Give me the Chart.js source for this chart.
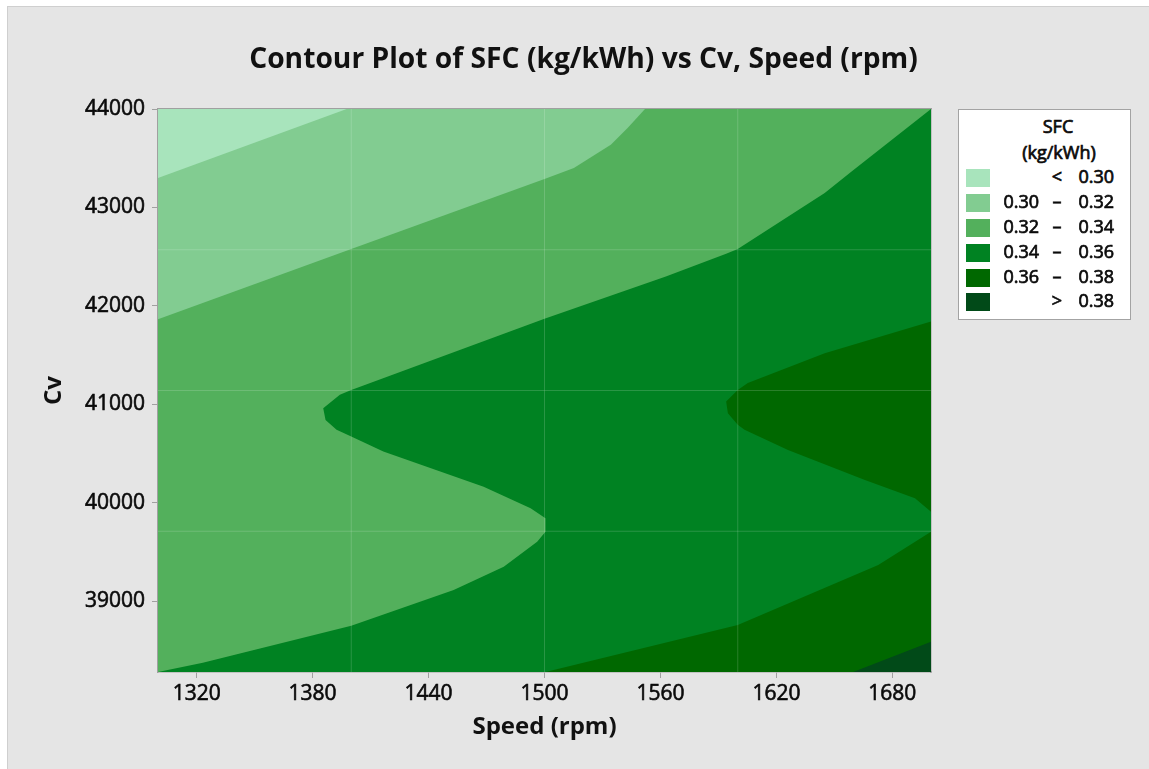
<!DOCTYPE html>
<html>
<head>
<meta charset="utf-8">
<script src="https://cdn.jsdelivr.net/npm/chart.js@4"></script>
<style>
html,body{margin:0;padding:0;background:#ffffff;width:1149px;height:769px;overflow:hidden;font-family:'Open Sans',sans-serif;}
#panel{position:absolute;left:7px;top:6px;width:1142px;height:763px;background:#E5E5E5;border-left:1px solid #CFCFCF;border-top:1px solid #CFCFCF;box-sizing:border-box;}
#c{position:absolute;left:0;top:0;}
#title{position:absolute;left:0;width:1167px;text-align:center;font-weight:700;color:#111;white-space:nowrap;line-height:1;}
#legend{position:absolute;left:958px;top:109px;width:171px;height:209px;background:#fff;border:1px solid #A3A3A3;}
#legend .t{position:absolute;line-height:1;font-size:18px;color:#0A0A0A;white-space:nowrap;-webkit-text-stroke:0.7px #0A0A0A;}
#legend .sw{position:absolute;width:24px;height:18px;}
</style>
</head>
<body>
<div id="panel"></div>
<canvas id="c" width="1149" height="769"></canvas>
<div id="title"></div>
<div id="legend"></div>
<script>
// ---------------- data ----------------
const chartTitle = 'Contour Plot of SFC (kg/kWh) vs Cv, Speed (rpm)';
const xTitle = 'Speed (rpm)';
const yTitle = 'Cv';
const legendTitle = ['SFC', '(kg/kWh)'];

const speedLimits = [1300, 1700];
const cvLimits = [38280, 44000];
const speedTicks = [1320, 1380, 1440, 1500, 1560, 1620, 1680];
const cvTicks = [39000, 40000, 41000, 42000, 43000, 44000];
const speedMesh = [1400, 1500, 1600];
const cvMesh = [39710, 41140, 42570];

const sfcLevels = [0.30, 0.32, 0.34, 0.36, 0.38];
const bandColors = ['#A8E4BC', '#82CC91', '#53B05C', '#008222', '#006800', '#014A18'];

// contour lines (Speed, Cv)
const line030 = [[1397.6, 44000], [1300, 43300]];
const line032 = [[1552, 44000], [1543, 43807], [1534.3, 43637], [1515.2, 43400], [1500, 43290], [1400, 42577], [1300, 41865]];
const line034 = [[1700, 44000], [1658.9, 43366], [1645, 43146], [1600, 42577], [1594, 42529], [1562.8, 42298],
  [1500, 41870], [1400, 41146], [1394.1, 41096], [1385.5, 40960], [1386.7, 40841], [1392.4, 40740], [1400, 40672],
  [1416.6, 40519], [1468.5, 40163], [1492.8, 39944], [1500.5, 39842], [1500.5, 39706], [1496.2, 39604],
  [1478.9, 39350], [1453, 39113], [1400, 38750], [1323.2, 38374], [1300, 38280]];
const line036Upper = [[1700, 41841], [1645, 41519], [1605.2, 41215], [1600, 41146], [1594, 41027], [1594.9, 40910],
  [1600, 40791], [1603.5, 40740], [1626, 40536], [1665.8, 40231], [1691.7, 40045], [1700, 39909]];
const line036Lower = [[1700, 39706], [1672.7, 39367], [1600, 38757], [1500.5, 38280]];
const line038 = [[1659.7, 38280], [1700, 38587]];

// ---------------- chart ----------------
Chart.defaults.font.family = "'Open Sans', sans-serif";
Chart.defaults.color = '#111';

const [x0, x1] = speedLimits;
const [y0, y1] = cvLimits;

function polygon(pts, color, order) {
  return {
    data: pts.map(([x, y]) => ({x, y})),
    fill: 'shape', backgroundColor: color,
    borderColor: 'rgba(0,0,0,0)', borderWidth: 0,
    pointRadius: 0, pointHoverRadius: 0, tension: 0, order
  };
}

const datasets = [
  polygon([[x0, y0], [x1, y0], [x1, y1], [x0, y1]], bandColors[3], 20),
  polygon(line034.concat([[x0, y1]]), bandColors[2], 19),
  polygon(line032.concat([[x0, y1]]), bandColors[1], 18),
  polygon(line030.concat([[x0, y1]]), bandColors[0], 17),
  polygon(line036Upper, bandColors[4], 16),
  polygon(line036Lower.concat([[x1, y0]]), bandColors[4], 15),
  polygon(line038.concat([[x1, y0]]), bandColors[5], 14)
];
speedMesh.forEach(x => datasets.push({
  data: [{x, y: y0}, {x, y: y1}], borderColor: 'rgba(255,255,255,0.16)', borderWidth: 1,
  pointRadius: 0, fill: false, order: 1
}));
cvMesh.forEach(y => datasets.push({
  data: [{x: x0, y}, {x: x1, y}], borderColor: 'rgba(255,255,255,0.16)', borderWidth: 1,
  pointRadius: 0, fill: false, order: 1
}));

const axisGray = '#A0A0A0';
const tickFont = {size: 21};
new Chart(document.getElementById('c'), {
  type: 'line',
  data: {datasets},
  options: {
    responsive: false, animation: false, events: [],
    layout: {padding: {left: 0, top: 109, right: 218, bottom: 0}},
    plugins: {legend: {display: false}, tooltip: {enabled: false}, title: {display: false}},
    scales: {
      x: {
        type: 'linear', position: 'bottom', min: x0, max: x1,
        afterBuildTicks: s => { s.ticks = speedTicks.map(v => ({value: v})); },
        afterFit: s => { s.height = 97; },
        grid: {display: true, drawOnChartArea: false, drawTicks: true, tickLength: 6, color: axisGray},
        border: {display: true, color: axisGray, width: 1.5},
        ticks: {font: tickFont, color: '#0A0A0A', textStrokeColor: '#0A0A0A', textStrokeWidth: 0.6,
          padding: 3, maxRotation: 0, autoSkip: false, callback: v => String(v)},
        title: {display: true, text: xTitle, font: {size: 24, weight: 'bold'}, padding: {top: 0, bottom: 27}}
      },
      y: {
        type: 'linear', position: 'left', min: y0, max: y1,
        afterBuildTicks: s => { s.ticks = cvTicks.map(v => ({value: v})); },
        afterFit: s => { s.width = 158; },
        grid: {display: true, drawOnChartArea: false, drawTicks: true, tickLength: 6, color: axisGray},
        border: {display: true, color: axisGray, width: 1.5},
        ticks: {font: tickFont, color: '#0A0A0A', textStrokeColor: '#0A0A0A', textStrokeWidth: 0.6,
          padding: 7, autoSkip: false, callback: v => String(v)},
        title: {display: true, text: yTitle, font: {size: 24, weight: 'bold'}, padding: {top: 40, bottom: 0}}
      },
      xTop: {
        type: 'linear', position: 'top', min: x0, max: x1,
        afterFit: s => { s.height = 0; },
        grid: {display: false, drawTicks: false}, ticks: {display: false},
        border: {display: true, color: axisGray, width: 1.5}
      },
      yRight: {
        type: 'linear', position: 'right', min: y0, max: y1,
        afterFit: s => { s.width = 0; },
        grid: {display: false, drawTicks: false}, ticks: {display: false},
        border: {display: true, color: axisGray, width: 1.5}
      }
    }
  }
});

// ---------------- title ----------------
const titleEl = document.getElementById('title');
titleEl.textContent = chartTitle;
const mctx = document.createElement('canvas').getContext('2d');
mctx.font = "bold 100px 'Open Sans'";
const tf = 100 * 669 / mctx.measureText(chartTitle).width;
titleEl.style.fontSize = tf + 'px';
titleEl.style.top = (68.3 - 0.888 * tf) + 'px';

// ---------------- legend ----------------
const lg = document.getElementById('legend');
const OX = 959, OY = 110, LF = 18, BASE = 0.888 * LF;
function addText(txt, x, baseline, align, weight) {
  const d = document.createElement('div');
  d.className = 't';
  d.textContent = txt;
  d.style.top = (baseline - BASE - OY) + 'px';
  if (weight) d.style.fontWeight = weight;
  if (align === 'center') { d.style.left = (x - OX) + 'px'; d.style.transform = 'translateX(-50%)'; }
  else if (align === 'right') { d.style.left = (x - 100 - OX) + 'px'; d.style.width = '100px'; d.style.textAlign = 'right'; }
  else { d.style.left = (x - OX) + 'px'; }
  lg.appendChild(d);
}
addText(legendTitle[0], 1058, 132.7, 'center');
addText(legendTitle[1], 1059, 159.3, 'center');
const fmt = v => v.toFixed(2);
bandColors.forEach((col, i) => {
  const top = 169.3 + 24.8 * i;
  const sw = document.createElement('div');
  sw.className = 'sw';
  sw.style.background = col;
  sw.style.left = (966 - OX) + 'px';
  sw.style.top = (top - OY) + 'px';
  lg.appendChild(sw);
  const base = top + 14;
  let left = '', mid, right;
  if (i === 0) { mid = '<'; right = fmt(sfcLevels[0]); }
  else if (i === bandColors.length - 1) { mid = '>'; right = fmt(sfcLevels[sfcLevels.length - 1]); }
  else { left = fmt(sfcLevels[i - 1]); mid = '\u2013'; right = fmt(sfcLevels[i]); }
  if (left) addText(left, 1039, base, 'right');
  addText(mid, 1057, base, 'center');
  addText(right, 1114, base, 'right');
});
</script>
</body>
</html>
